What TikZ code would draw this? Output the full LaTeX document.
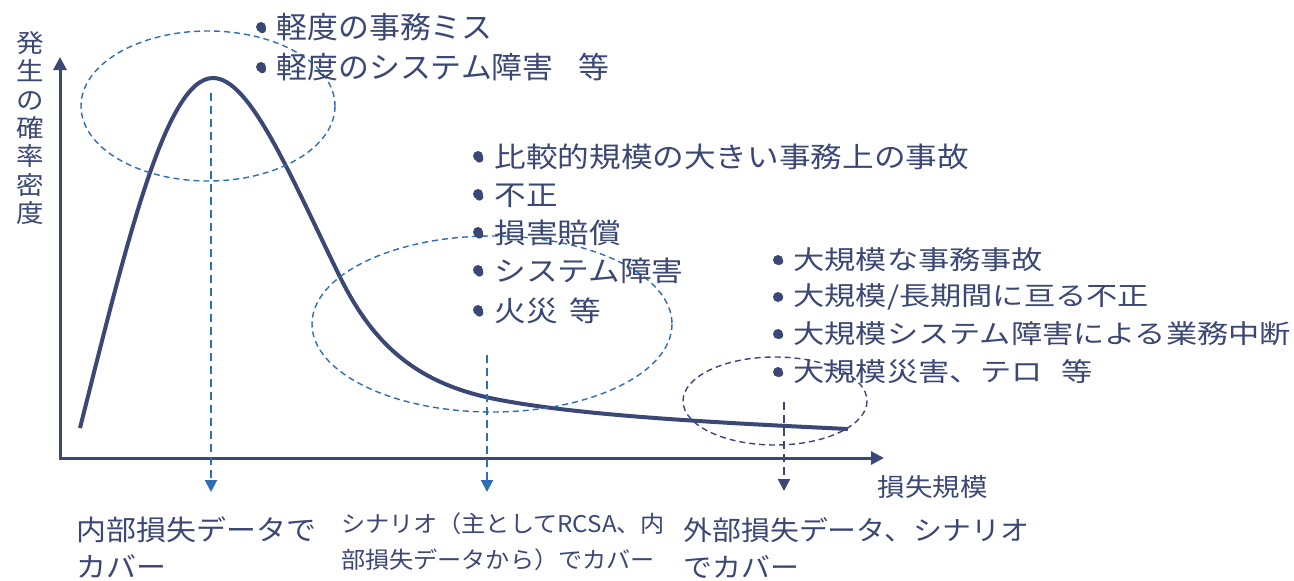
\documentclass[tikz,border=0pt]{standalone}
\usepackage{fontspec}
\usetikzlibrary{arrows.meta}
\newfontfamily\jpA{Noto Sans CJK JP}
\newfontfamily\jpT{Noto Sans CJK JP}[FakeStretch=1.03]
\newfontfamily\jpM{Noto Sans CJK JP}[FakeStretch=1.05]
\newfontfamily\jpB{Noto Sans CJK JP}[FakeStretch=1.13]
\newfontfamily\jpC{Noto Sans CJK JP}[FakeStretch=1.2]
\newfontfamily\jpD{Noto Sans CJK JP}[FakeStretch=1.07]
\newfontfamily\jpE{Noto Sans CJK JP}[FakeStretch=1.1]
\definecolor{navy}{HTML}{3B4774}
\definecolor{dblue}{HTML}{2F6DB5}
\newcommand\bl[2]{\makebox[#1][l]{\hspace{#2}•}}
\tikzset{
  txt/.style={inner sep=0pt, outer sep=0pt, anchor=base west, text=navy},
  toptxt/.style={txt, font=\jpT\fontsize{30}{36}\selectfont},
  midtxt/.style={txt, font=\jpB\fontsize{28}{34}\selectfont},
  rgttxt/.style={txt, font=\jpC\fontsize{26}{31}\selectfont},
  bottxt/.style={txt, font=\jpD\fontsize{28}{34}\selectfont},
  botmtxt/.style={txt, font=\jpM\fontsize{23}{28}\selectfont},
  botrtxt/.style={txt, font=\jpD\fontsize{27}{32}\selectfont},
  axtxt/.style={txt, font=\jpE\fontsize{25}{30}\selectfont},
  ylab/.style={inner sep=0pt, outer sep=0pt, anchor=base, text=navy, font=\jpE\fontsize{25}{30}\selectfont},
  axis/.style={navy, line width=3pt, line join=miter, {Triangle[width=13pt,length=13pt]}-{Triangle[width=13pt,length=13pt]}},
  curve/.style={navy, line width=4pt},
  ell/.style={dblue, line width=1.4pt, dash pattern=on 6pt off 4pt},
  ellk/.style={navy, line width=1.4pt, dash pattern=on 6pt off 4pt},
  darr/.style={dblue, line width=2pt, dash pattern=on 8pt off 5pt, -{Triangle[width=12pt,length=12pt]}},
  darrk/.style={navy, line width=2pt, dash pattern=on 8pt off 5pt, -{Triangle[width=12pt,length=12pt]}},
  bdot/.style={fill=navy, draw=none},
}
\begin{document}
\begin{tikzpicture}[x=1pt,y=-1pt]
\useasboundingbox (0,0) rectangle (1294,581);
% axes
\coordinate (O) at (60,458);
\coordinate (ytip) at (60,57);
\coordinate (xtip) at (884,458);
\draw[axis] (ytip) -- (O) -- (xtip);
% curve
\coordinate (c0) at (80,428);
\coordinate (c1) at (213,78);
\coordinate (c2) at (340,277);
\coordinate (c3) at (500,400);
\coordinate (c4) at (848,429);
\draw[curve] (c0) .. controls (125,250) and (165,78) .. (c1)
  .. controls (250,78) and (290,175) .. (c2)
  .. controls (375,348) and (420,385) .. (c3)
  .. controls (580,415) and (700,422) .. (c4);
% ellipses
\draw[ell] (208,106) ellipse [x radius=127, y radius=75];
\draw[ell] (492,324) ellipse [x radius=180, y radius=88];
\draw[ellk] (775,401) ellipse [x radius=92, y radius=44];
% dashed arrows
\coordinate (a1s) at (211,93);  \coordinate (a1e) at (211,492);
\coordinate (a2s) at (487,355); \coordinate (a2e) at (487,492);
\coordinate (a3s) at (784,402); \coordinate (a3e) at (784,491);
\draw[darr] (a1s) -- (a1e);
\draw[darr] (a2s) -- (a2e);
\draw[darrk] (a3s) -- (a3e);
% y label
\foreach \c [count=\i] in {発,生,の,確,率,密,度}
  \node[ylab] (yl\i) at (30,{52.6+28.33*(\i-1)}) {\c};
% x label
\node[axtxt] (xl) at (877.5,496) {損失規模};
% top list
\node[toptxt] (t1) at (252,38.4) {\bl{24.5pt}{5pt}軽度の事務ミス};
\node[toptxt] (t2) at (252,78.9) {\bl{24.5pt}{5pt}軽度のシステム障害\hspace{25pt}等};
% middle list
\node[midtxt] (m1) at (469,167.6) {\bl{25.5pt}{5pt}比較的規模の大きい事務上の事故};
\node[midtxt] (m2) at (469,205.6) {\bl{25.5pt}{5pt}不正};
\node[midtxt] (m3) at (469,243.6) {\bl{25.5pt}{5pt}損害賠償};
\node[midtxt] (m4) at (469,281.6) {\bl{25.5pt}{5pt}システム障害};
\node[midtxt] (m5) at (469,321.6) {\bl{25.5pt}{5pt}火災\hspace{12pt}等};
% right list
\node[rgttxt] (r1) at (769,269.4) {\bl{24.5pt}{5pt}大規模な事務事故};
\node[rgttxt] (r2) at (769,305.9) {\bl{24.5pt}{5pt}大規模/長期間に亘る不正};
\node[rgttxt] (r3) at (769,343.4) {\bl{24.5pt}{5pt}大規模システム障害による業務中断};
\node[rgttxt] (r4) at (769,381.4) {\bl{24.5pt}{5pt}大規模災害、テロ\hspace{18pt}等};
% bullet dots (enlarge the list bullets)
\foreach \y in {27,67} \fill[bdot] (261,\y) circle [radius=5];
\foreach \y in {156,194,232,270,310} \fill[bdot] (478,\y) circle [radius=5];
\foreach \y in {260,297,334,372} \fill[bdot] (778,\y) circle [radius=5];
% bottom labels
\node[bottxt] (b1a) at (76.5,540) {内部損失データで};
\node[bottxt] (b1b) at (76.5,577.6) {カバー};
\node[botmtxt] (b2a) at (341,532.2) {シナリオ（主としてRCSA、内};
\node[botmtxt] (b2b) at (341,568.7) {部損失データから）でカバー};
\node[botrtxt] (b3a) at (683.5,540.3) {外部損失データ、シナリオ};
\node[botrtxt] (b3b) at (683.5,577.3) {でカバー};
\end{tikzpicture}
\end{document}
